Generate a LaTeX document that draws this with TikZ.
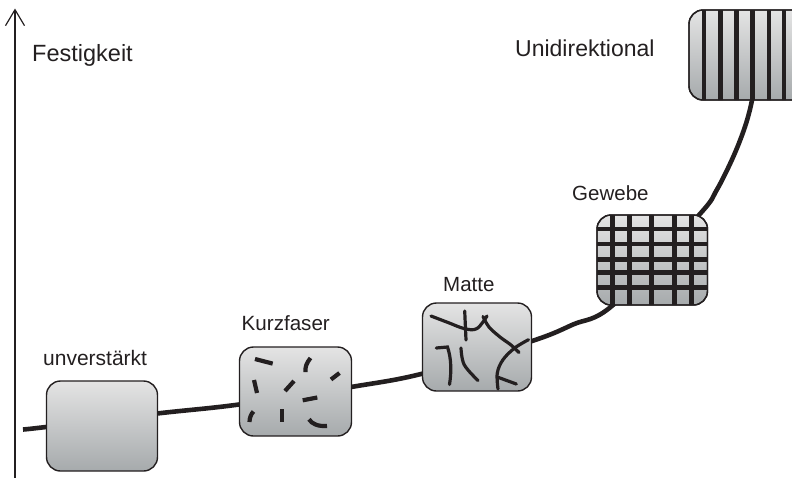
\documentclass[tikz,border=0pt]{standalone}
\usepackage{fontspec}
\setmainfont{Liberation Sans}
\usetikzlibrary{arrows.meta}

\definecolor{ink}{HTML}{231F20}
\definecolor{boxtop}{HTML}{E4E4E4}
\definecolor{boxbot}{HTML}{A6AAAC}

\tikzset{
  panel/.style={rounded corners=14pt, draw=ink, line width=1.4pt,
    top color=boxtop, bottom color=boxbot, inner sep=0pt, outer sep=0pt,
    anchor=north west},
  rim/.style={rounded corners=14pt, draw=ink, line width=1.4pt},
  label/.style={anchor=base west, inner sep=0pt, text=ink},
  trend/.style={line width=4.6pt, draw=ink},
  chopped/.style={line width=4.2pt, draw=ink},
  mat/.style={line width=3.2pt, draw=ink, line cap=round},
  bar/.style={fill=ink, draw=none, sharp corners},
  axisline/.style={line width=1.2pt, draw=ink,
    -{Straight Barb[length=16pt,width=19pt,line width=1.2pt]}}
}

\begin{document}
\begin{tikzpicture}[x=1pt,y=-1pt]
\useasboundingbox (0,0) rectangle (792,477);

% strength axis
\coordinate (axfoot) at (15,478);
\coordinate (axhead) at (15,8.5);
\draw[axisline] (axfoot) -- (axhead);
\node[label, font=\fontsize{23.5}{26}\selectfont] (festigkeit) at (32,61) {Festigkeit};

% rising trend curve, drawn first so the panels cover it
\coordinate (c0) at (23,429.5);
\coordinate (c1) at (46,427);
\coordinate (c2) at (157,413.5);
\coordinate (c3) at (239,404.5);
\coordinate (c4) at (351,387);
\coordinate (c5) at (423,373.5);
\coordinate (c6) at (532,341);
\coordinate (c7) at (573,324.5);
\coordinate (c8) at (613,305);
\coordinate (c9) at (699,215);
\coordinate (c10) at (716.7,190);
\coordinate (c11) at (733.3,156.7);
\coordinate (c12) at (745,126.7);
\coordinate (c13) at (751.7,101.7);
\coordinate (c14) at (754.5,80);
\draw[trend] plot[smooth, tension=0.55] coordinates
  {(c0) (c1) (c2) (c3) (c4) (c5) (c6) (c7) (c8) (c9) (c10) (c11) (c12) (c13) (c14)};

% unreinforced
\node[panel, minimum width=111pt, minimum height=90pt] (unv) at (46.5,381) {};
\node[label, font=\fontsize{21}{24}\selectfont] (unvtxt) at (43,365) {unverstärkt};

% short fibres
\node[panel, minimum width=112pt, minimum height=89pt] (kurz) at (239.5,347) {};
\node[label, font=\fontsize{20.6}{24}\selectfont] (kurztxt) at (241.5,330.7) {Kurzfaser};
\draw[chopped] (255,359) -- (272.7,363.6);
\draw[chopped] (310.5,358) .. controls (306.5,363) and (305,367) .. (305.5,372);
\draw[chopped] (331,379.5) -- (339.5,373);
\draw[chopped] (254,380) -- (257,393);
\draw[chopped] (285,391) -- (294,381);
\draw[chopped] (302.7,400.3) -- (317.3,397.5);
\draw[chopped] (253.5,411.5) .. controls (251,414) and (249.5,418) .. (249.5,422);
\draw[chopped] (282.3,409.3) -- (282.3,421.7);
\draw[chopped] (309,419.3) .. controls (312,424) and (318,426.5) .. (327,426);

% mat
\node[panel, minimum width=109pt, minimum height=88pt] (matte) at (422.5,303) {};
\node[label, font=\fontsize{20.5}{24}\selectfont] (mattetxt) at (443,291.7) {Matte};
\draw[mat] plot[smooth, tension=0.6] coordinates {(431,316) (448,322.5) (464.7,328.7) (477,328.5) (487,316)};
\draw[mat] plot[smooth, tension=0.6] coordinates {(483,316.5) (489,327) (500,337) (511,345) (519,352.5)};
\draw[mat] (464.7,311) -- (466,340);
\draw[mat] (436.3,348) -- (447.5,347) .. controls (451.5,359) and (451.5,372) .. (449.5,384.5);
\draw[mat] plot[smooth, tension=0.6] coordinates {(461,348) (464.2,364.7) (478,380.5)};
\draw[mat] plot[smooth, tension=0.6] coordinates {(528.5,339.7) (514.7,348) (503,359.7) (497.3,373) (498,389)};
\draw[mat] (498,377.3) -- (516.3,384);

% woven fabric: shaded panel, yarn grid clipped to it, rim on top
\node[panel, minimum width=110.5pt, minimum height=90pt] (gewebe) at (597,215) {};
\begin{scope}
  \clip[rounded corners=14pt] (gewebe.north west) rectangle (gewebe.south east);
  \foreach \u in {612.7,629.7,651.7,674.7,691.2}
    \fill[bar] (\u-2.4,210) rectangle (\u+2.4,310);
  \foreach \v in {229,244,259.7,272.3,287.7}
    \fill[bar] (590,\v-2.4) rectangle (715,\v+2.4);
\end{scope}
\draw[rim] (gewebe.north west) rectangle (gewebe.south east);
\node[label, font=\fontsize{20.5}{24}\selectfont] (gewebetxt) at (572,200.7) {Gewebe};

% unidirectional: parallel fibres clipped to the panel
\node[panel, minimum width=120pt, minimum height=90pt] (uni) at (689,10) {};
\begin{scope}
  \clip[rounded corners=14pt] (uni.north west) rectangle (uni.south east);
  \foreach \u in {704,720.7,736.7,752.3,769,784}
    \fill[bar] (\u-2.4,5) rectangle (\u+2.4,105);
\end{scope}
\draw[rim] (uni.north west) rectangle (uni.south east);
\node[label, font=\fontsize{23}{26}\selectfont] (unitxt) at (515,56.5) {Unidirektional};
\end{tikzpicture}
\end{document}
